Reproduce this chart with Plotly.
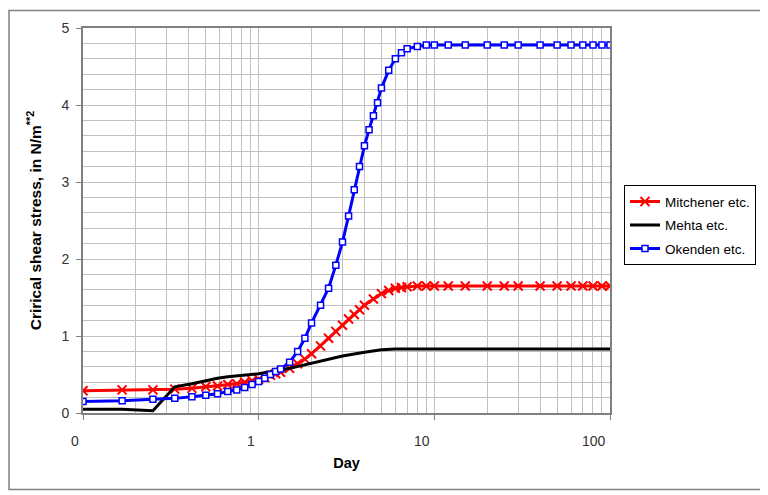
import math
import plotly.graph_objects as go

# ---- data ----
mitchener_day = [0.1, 0.167, 0.25, 0.333, 0.417, 0.5, 0.583, 0.667, 0.75, 0.833, 0.917, 1.0,
                 1.083, 1.167, 1.25, 1.333, 1.5, 1.667, 1.833, 2.0, 2.25, 2.5, 2.75, 3.0, 3.25,
                 3.5, 3.75, 4.0, 4.5, 5.0, 5.5, 6.0, 6.5, 7.0, 8.0, 9.0, 10, 12, 15, 20, 25, 30,
                 40, 50, 60, 70, 80, 90, 100]
mitchener_val = [0.29, 0.30, 0.30, 0.31, 0.32, 0.34, 0.35, 0.37, 0.38, 0.40, 0.42, 0.44,
                 0.46, 0.49, 0.51, 0.53, 0.58, 0.64, 0.70, 0.77, 0.87, 0.97, 1.06, 1.14, 1.22,
                 1.28, 1.34, 1.40, 1.48, 1.55, 1.59, 1.62, 1.63, 1.64, 1.65, 1.65, 1.65, 1.65,
                 1.65, 1.65, 1.65, 1.65, 1.65, 1.65, 1.65, 1.65, 1.65, 1.65, 1.65]

mehta_day = [0.1, 0.167, 0.25, 0.333, 0.417, 0.5, 0.583, 0.667, 0.75, 0.833, 0.917, 1.0,
             1.5, 2.0, 3.0, 4.0, 5.0, 6.0, 7.0, 10, 20, 50, 100]
mehta_val = [0.05, 0.05, 0.03, 0.34, 0.38, 0.42, 0.45, 0.47, 0.48, 0.49, 0.50, 0.51,
             0.58, 0.65, 0.74, 0.79, 0.82, 0.83, 0.83, 0.83, 0.83, 0.83, 0.83]

okenden_day = [0.1, 0.167, 0.25, 0.333, 0.417, 0.5, 0.583, 0.667, 0.75, 0.833, 0.917, 1.0,
               1.083, 1.167, 1.25, 1.333, 1.5, 1.667, 1.833, 2.0, 2.25, 2.5, 2.75, 3.0, 3.25,
               3.5, 3.75, 4.0, 4.25, 4.5, 4.75, 5.0, 5.5, 6.0, 6.5, 7.0, 8.0, 9.0, 10, 12, 15,
               20, 25, 30, 40, 50, 60, 70, 80, 90, 100]
okenden_val = [0.15, 0.16, 0.18, 0.19, 0.21, 0.23, 0.25, 0.28, 0.30, 0.33, 0.37, 0.41,
               0.45, 0.50, 0.54, 0.57, 0.66, 0.80, 0.97, 1.17, 1.40, 1.62, 1.92, 2.22, 2.56,
               2.90, 3.20, 3.47, 3.68, 3.86, 4.03, 4.22, 4.45, 4.60, 4.68, 4.73, 4.76, 4.78, 4.78,
               4.78, 4.78, 4.78, 4.78, 4.78, 4.78, 4.78, 4.78, 4.78, 4.78, 4.78, 4.78]

x_tick_vals = [0.1, 1, 10, 100]
x_tick_text = ["0", "1", "10", "100"]
y_tick_vals = [0, 1, 2, 3, 4, 5]

FONT = "Liberation Sans, Arial, sans-serif"
GRID = "#c0c0c0"
AXIS = "#808080"

# page has an 8px body margin; figure is placed at (8, 8)
OFF = 8
W, H = 768 - OFF, 495 - OFF
PL, PR, PT, PB = 83 - OFF, 610 - OFF, 26 - OFF, 413 - OFF  # plot box in figure px
PW, PH = PR - PL, PB - PT

fig = go.Figure()
fig.add_trace(go.Scatter(
    x=mitchener_day, y=mitchener_val, name="Mitchener etc.", mode="lines+markers",
    line=dict(color="#ff0000", width=3),
    marker=dict(symbol="x-thin", size=9, line=dict(color="#ff0000", width=2), color="#ff0000"),
    legendgroup="a"))
fig.add_trace(go.Scatter(
    x=mehta_day, y=mehta_val, name="Mehta etc.", mode="lines",
    line=dict(color="#000000", width=3), legendgroup="b"))
fig.add_trace(go.Scatter(
    x=okenden_day, y=okenden_val, name="Okenden etc.", mode="lines+markers",
    line=dict(color="#0000ff", width=3),
    marker=dict(symbol="square", size=6, color="#ffffff", line=dict(color="#0000ff", width=1.5)),
    legendgroup="c"))

minor_x = [m * 10 ** e for e in (-1, 0, 1) for m in range(2, 10)]

fig.update_xaxes(
    type="log", range=[-1, 2], tickvals=x_tick_vals, showticklabels=False,
    ticks="outside", ticklen=5, tickcolor=AXIS, tickwidth=1,
    showgrid=True, gridcolor=GRID, gridwidth=1,
    minor=dict(tickvals=minor_x, showgrid=True, gridcolor=GRID, ticks=""),
    showline=True, linecolor=AXIS, linewidth=2, mirror=True, zeroline=False,
    title=dict(text="<b>Day</b>", font=dict(family=FONT, size=14.5, color="#000"), standoff=39),
)
fig.update_yaxes(
    range=[0, 5], tickvals=y_tick_vals, ticks="outside", ticklen=5, tickcolor=AXIS,
    tickfont=dict(family=FONT, size=14, color="#333"), ticklabelstandoff=4,
    showgrid=True, gridcolor=GRID, gridwidth=1,
    minor=dict(dtick=0.2, showgrid=True, gridcolor=GRID, ticks=""),
    showline=True, linecolor=AXIS, linewidth=2, mirror=True, zeroline=False,
    title=dict(text="<b>Crirical shear stress, in N/m<sup>**2</sup></b>",
               font=dict(family=FONT, size=15.5, color="#000"), standoff=16),
)

for v, t in zip(x_tick_vals, x_tick_text):
    fig.add_annotation(x=math.log10(v), y=0, xref="x", yref="paper", text=t,
                       showarrow=False, xanchor="right", yanchor="top",
                       xshift=-2, yshift=-18,
                       font=dict(family=FONT, size=14, color="#333"))

# outer chart border
fig.add_shape(type="rect", xref="paper", yref="paper",
              x0=(9 - 83) / PW, x1=(766 - 83) / PW,
              y0=(413 - 490) / PH, y1=(413 - 8.5) / PH,
              line=dict(color=AXIS, width=1.5), layer="below")

fig.update_layout(
    width=W, height=H,
    margin=dict(l=PL, r=W - PR, t=PT, b=H - PB),
    paper_bgcolor="#ffffff", plot_bgcolor="#ffffff",
    font=dict(family=FONT, size=12, color="#000"),
    legend=dict(x=(624 - 83) / PW, y=(413 - 184) / PH, xanchor="left", yanchor="top",
                bgcolor="#ffffff", bordercolor="#000000", borderwidth=1,
                font=dict(family=FONT, size=13.5, color="#000"),
                tracegroupgap=3, traceorder="grouped"),
    showlegend=True,
)

fig.write_html("out.html")
